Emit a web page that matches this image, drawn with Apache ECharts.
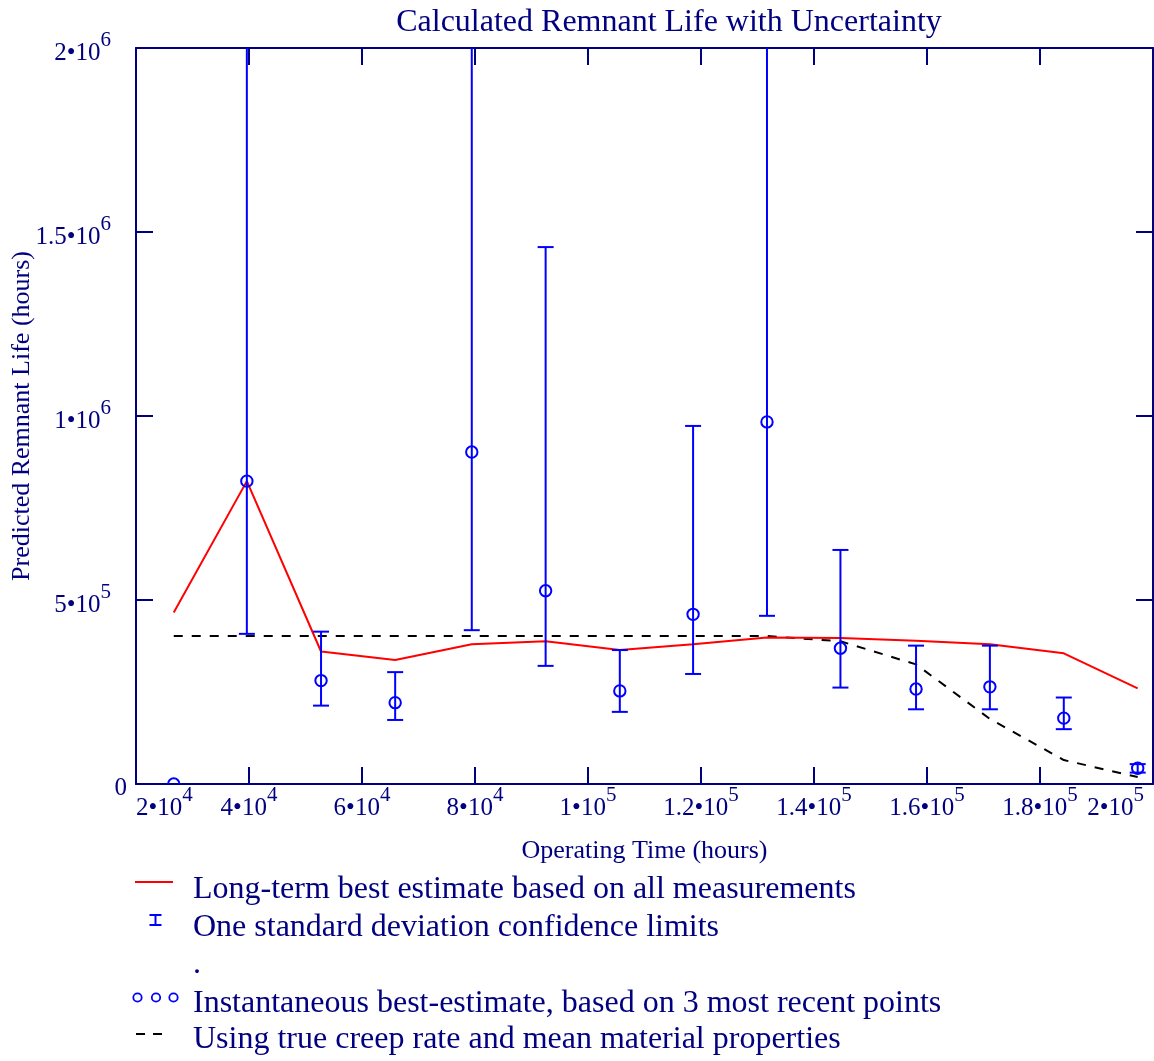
<!DOCTYPE html>
<html><head><meta charset="utf-8">
<script src="https://cdn.jsdelivr.net/npm/echarts@6/dist/echarts.min.js"></script>
<style>html,body{margin:0;padding:0;background:#fff}#c{width:1154px;height:1061px}</style>
</head><body><div id="c"></div>
<script>
// ---- data ----
const operatingTime = [26680, 39620, 52750, 65870, 79430, 92500, 105630, 118600, 131680, 144680, 158060, 171130, 184210, 197290];
const instantaneousEstimate = [0, 823000, 281000, 221000, 902000, 525000, 253000, 461000, 984000, 369000, 258000, 264000, 179000, 43000];
const upperLimit = [null, 2200000, 414000, 304000, 2200000, 1459000, 364000, 973000, 2200000, 636000, 376000, 376000, 235000, 54000];
const lowerLimit = [null, 408000, 213000, 174000, 418000, 321000, 196000, 299000, 457000, 262000, 203000, 203000, 149000, 31000];
const longTermEstimate = [466000, 823000, 360000, 337000, 380000, 388000, 364000, 380000, 398000, 397000, 389000, 380000, 355000, 260000];
const trueCreepTime = [26680, 131680, 144680, 158060, 171130, 184210, 197290];
const trueCreepLife = [402000, 402000, 388000, 325000, 177000, 65000, 19000];

const xTickBase = ['2', '4', '6', '8', '1', '1.2', '1.4', '1.6', '1.8', '2'];
const xTickExp = ['4', '4', '4', '4', '5', '5', '5', '5', '5', '5'];
const yTickBase = ['0', '5', '1', '1.5', '2'];
const yTickExp = ['', '5', '6', '6', '6'];

const titleText = 'Calculated Remnant Life with Uncertainty';
const xName = 'Operating Time (hours)';
const yName = 'Predicted Remnant Life (hours)';
const legendTexts = [
  'Long-term best estimate based on all measurements',
  'One standard deviation confidence limits',
  '.',
  'Instantaneous best-estimate, based on 3 most recent points',
  'Using true creep rate and mean material properties'
];

// ---- style ----
const NAVY = '#000080';
const BLUE = '#0000ff';
const FONT = '"Liberation Serif", "Times New Roman", serif';

const richTicks = {
  b: { fontFamily: FONT, fontSize: 25, color: NAVY, verticalAlign: 'bottom', padding: [11, 0, 0, 0] },
  s: { fontFamily: FONT, fontSize: 21, color: NAVY, verticalAlign: 'top' },
  sx: { fontFamily: FONT, fontSize: 21, color: NAVY, verticalAlign: 'top', padding: [0, 9, 0, 0] },
  sy: { fontFamily: FONT, fontSize: 21, color: NAVY, verticalAlign: 'top', padding: [0, 16, 0, 0] },
  z: { fontFamily: FONT, fontSize: 25, color: NAVY, verticalAlign: 'middle', padding: [8, 0, 0, 0] }
};

const errData = [];
operatingTime.forEach((t, i) => {
  if (lowerLimit[i] != null && upperLimit[i] != null) errData.push([t, lowerLimit[i], upperLimit[i]]);
});
const circData = operatingTime.map((t, i) => [t, instantaneousEstimate[i]]);
const longData = operatingTime.map((t, i) => [t, longTermEstimate[i]]);
const trueData = trueCreepTime.map((t, i) => [t, trueCreepLife[i]]);

const axisLineStyle = { color: NAVY, width: 2 };
const tickStyle = { show: true, inside: true, length: 17, lineStyle: { color: NAVY, width: 2 } };

const chart = echarts.init(document.getElementById('c'), null, { renderer: 'canvas' });

const legendX = 193;
const legendY = [890, 928, 965, 1003.5, 1040];

const option = {
  animation: false,
  backgroundColor: '#ffffff',
  grid: { left: 136, top: 48, right: 1, bottom: 277, containLabel: false, outerBoundsMode: 'none' },
  xAxis: [{
    type: 'value', min: 20000, max: 200000, interval: 20000, position: 'bottom',
    axisLine: { show: true, onZero: false, lineStyle: axisLineStyle },
    axisTick: tickStyle,
    splitLine: { show: false },
    axisLabel: {
      margin: 1, alignMinLabel: 'left', alignMaxLabel: 'right',
      formatter: function (v) {
        const i = Math.round((v - 20000) / 20000);
        const sup = (i === xTickBase.length - 1) ? 'sx' : 's';
        return '{b|' + xTickBase[i] + '•10}{' + sup + '|' + xTickExp[i] + '}';
      },
      rich: richTicks
    },
    name: xName, nameLocation: 'middle', nameGap: 54, nameMoveOverlap: false,
    nameTextStyle: { fontFamily: FONT, fontSize: 26, color: NAVY }
  }, {
    type: 'value', min: 20000, max: 200000, interval: 20000, position: 'top',
    axisLine: { show: true, onZero: false, lineStyle: axisLineStyle },
    axisTick: tickStyle, axisLabel: { show: false }, splitLine: { show: false }
  }],
  yAxis: [{
    type: 'value', min: 0, max: 2000000, interval: 500000, position: 'left',
    axisLine: { show: true, onZero: false, lineStyle: axisLineStyle },
    axisTick: tickStyle,
    splitLine: { show: false },
    axisLabel: {
      margin: 9,
      formatter: function (v) {
        const i = Math.round(v / 500000);
        if (!yTickExp[i]) return '{z|' + yTickBase[i] + '}';
        return '{b|' + yTickBase[i] + '•10}{sy|' + yTickExp[i] + '}';
      },
      rich: richTicks
    },
    name: yName, nameLocation: 'middle', nameGap: 101, nameMoveOverlap: false,
    nameTextStyle: { fontFamily: FONT, fontSize: 26, color: NAVY }
  }, {
    type: 'value', min: 0, max: 2000000, interval: 500000, position: 'right',
    axisLine: { show: true, onZero: false, lineStyle: axisLineStyle },
    axisTick: tickStyle, axisLabel: { show: false }, splitLine: { show: false }
  }],
  series: [
    {
      name: 'Using true creep rate', type: 'line', data: trueData, showSymbol: false, symbol: 'none',
      lineStyle: { color: '#000000', width: 2, type: [9, 9] }, z: 2
    },
    {
      name: 'Long-term best estimate', type: 'line', data: longData, showSymbol: false, symbol: 'none',
      lineStyle: { color: '#ff0000', width: 2 }, z: 3
    },
    {
      name: 'Confidence limits', type: 'custom', data: errData, clip: true, z: 4,
      renderItem: function (params, api) {
        const x = api.value(0), lo = api.value(1), hi = api.value(2);
        const a = api.coord([x, lo]), b = api.coord([x, hi]);
        const w = 8;
        const st = { stroke: BLUE, lineWidth: 2 };
        return {
          type: 'group', children: [
            { type: 'line', shape: { x1: a[0], y1: a[1], x2: b[0], y2: b[1] }, style: st },
            { type: 'line', shape: { x1: a[0] - w, y1: a[1], x2: a[0] + w, y2: a[1] }, style: st },
            { type: 'line', shape: { x1: b[0] - w, y1: b[1], x2: b[0] + w, y2: b[1] }, style: st }
          ]
        };
      }
    },
    {
      name: 'Instantaneous best-estimate', type: 'custom', data: circData, clip: true, z: 5,
      renderItem: function (params, api) {
        const p = api.coord([api.value(0), api.value(1)]);
        return { type: 'circle', shape: { cx: p[0], cy: p[1], r: 5.7 }, style: { fill: 'none', stroke: BLUE, lineWidth: 2 } };
      }
    }
  ],
  graphic: [
    { type: 'text', x: 669, y: 23, style: { text: titleText, font: '32px ' + FONT, fill: NAVY, align: 'center', verticalAlign: 'middle' } },
    // legend symbols
    { type: 'line', shape: { x1: 135, y1: 882, x2: 173, y2: 882 }, style: { stroke: '#ff0000', lineWidth: 2 } },
    { type: 'line', shape: { x1: 155.5, y1: 915, x2: 155.5, y2: 925 }, style: { stroke: BLUE, lineWidth: 2 } },
    { type: 'line', shape: { x1: 149.5, y1: 915, x2: 161.5, y2: 915 }, style: { stroke: BLUE, lineWidth: 2 } },
    { type: 'line', shape: { x1: 149.5, y1: 925, x2: 161.5, y2: 925 }, style: { stroke: BLUE, lineWidth: 2 } },
    { type: 'circle', shape: { cx: 137.5, cy: 997.5, r: 4.2 }, style: { fill: 'none', stroke: BLUE, lineWidth: 1.8 } },
    { type: 'circle', shape: { cx: 156, cy: 997.5, r: 4.2 }, style: { fill: 'none', stroke: BLUE, lineWidth: 1.8 } },
    { type: 'circle', shape: { cx: 173.5, cy: 997.5, r: 4.2 }, style: { fill: 'none', stroke: BLUE, lineWidth: 1.8 } },
    { type: 'line', shape: { x1: 136, y1: 1034, x2: 145, y2: 1034 }, style: { stroke: '#000', lineWidth: 2 } },
    { type: 'line', shape: { x1: 153, y1: 1034, x2: 162, y2: 1034 }, style: { stroke: '#000', lineWidth: 2 } }
  ].concat(legendTexts.map((t, i) => ({
    type: 'text', x: legendX, y: legendY[i],
    style: { text: t, font: '32px ' + FONT, fill: NAVY, align: 'left', verticalAlign: 'middle' }
  })))
};
chart.setOption(option);
</script>
</body></html>
